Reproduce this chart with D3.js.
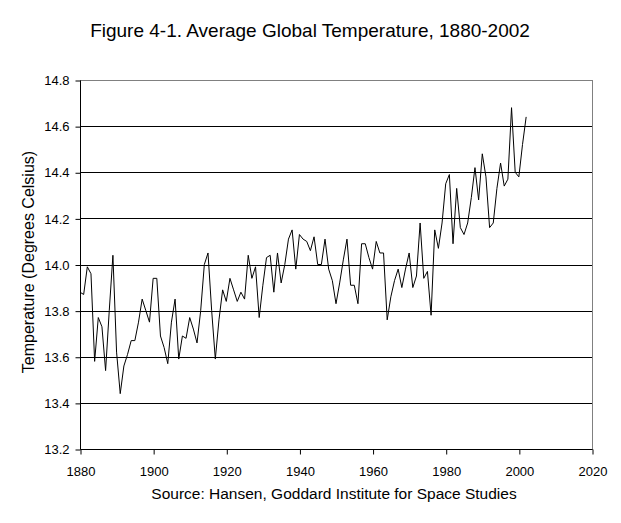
<!DOCTYPE html>
<html>
<head>
<meta charset="utf-8">
<script src="https://cdn.jsdelivr.net/npm/d3@7"></script>
<style>
  body { margin: 0; background: #fff; }
  svg { display: block; font-family: "Liberation Sans", Arial, sans-serif; }
</style>
</head>
<body>
<div id="chart"></div>
<script>
// annual mean temperatures, 1880..2002
const startYear = 1880
const temps = [
  13.88, 13.87, 13.99, 13.96, 13.58, 13.77, 13.73, 13.54, 13.80, 14.04,
  13.62, 13.44, 13.56, 13.61, 13.67, 13.67, 13.75, 13.85, 13.80, 13.75,
  13.94, 13.94, 13.69, 13.64, 13.57, 13.75, 13.85, 13.59, 13.69, 13.68,
  13.77, 13.72, 13.66, 13.80, 14.00, 14.05, 13.80, 13.59, 13.76, 13.89,
  13.84, 13.94, 13.89, 13.84, 13.88, 13.85, 14.04, 13.94, 13.99, 13.77,
  13.91, 14.03, 14.04, 13.88, 14.05, 13.92, 14.00, 14.11, 14.15, 13.98,
  14.13, 14.11, 14.10, 14.06, 14.12, 14.00, 14.00, 14.11, 13.98, 13.93,
  13.83, 13.92, 14.02, 14.11, 13.91, 13.91, 13.83, 14.09, 14.09, 14.03,
  13.98, 14.10, 14.05, 14.05, 13.76, 13.86, 13.93, 13.98, 13.90, 13.98,
  14.05, 13.90, 13.95, 14.18, 13.94, 13.97, 13.78, 14.15, 14.07, 14.18,
  14.35, 14.39, 14.09, 14.33, 14.16, 14.13, 14.18, 14.29, 14.42, 14.28,
  14.48, 14.38, 14.16, 14.18, 14.33, 14.44, 14.34, 14.37, 14.68, 14.40,
  14.38, 14.52, 14.64
]
const xTicks = [1880, 1900, 1920, 1940, 1960, 1980, 2000, 2020]
const yTicks = [13.2, 13.4, 13.6, 13.8, 14.0, 14.2, 14.4, 14.6, 14.8]

const titleText = 'Figure 4-1. Average Global Temperature, 1880-2002'
const yTitle = 'Temperature (Degrees Celsius)'
const sourceText = 'Source: Hansen, Goddard Institute for Space Studies'

const W = 621, H = 523
const m = { left: 80, right: 592, top: 80, bottom: 449 }

const data = temps.map((t, i) => ({ year: startYear + i, temp: t }))

const x = d3.scaleLinear().domain([1880, 2020]).range([m.left, m.right])
const y = d3.scaleLinear().domain([13.2, 14.8]).range([m.bottom, m.top])

const svg = d3.select('#chart').append('svg')
    .attr('width', W).attr('height', H)

// plot frame, grey on top/right like the original
svg.append('rect')
    .attr('x', m.left + 0.5).attr('y', m.top + 0.5)
    .attr('width', m.right - m.left).attr('height', m.bottom - m.top)
    .attr('fill', 'none').attr('stroke', '#808080')

// horizontal gridlines
svg.append('g').selectAll('line')
    .data(yTicks.filter(v => v > 13.2 && v < 14.8))
    .enter().append('line')
    .attr('x1', m.left).attr('x2', m.right)
    .attr('y1', d => Math.round(y(d)) + 0.5)
    .attr('y2', d => Math.round(y(d)) + 0.5)
    .attr('stroke', '#000')

// axes
const yAxis = d3.axisLeft(y).tickValues(yTicks)
    .tickFormat(d3.format('.1f')).tickSize(5).tickPadding(6)
const xAxis = d3.axisBottom(x).tickValues(xTicks)
    .tickFormat(d3.format('d')).tickSize(5).tickPadding(12)

const gy = svg.append('g')
    .attr('transform', 'translate(' + (m.left + 0.5) + ',0.5)')
    .call(yAxis)
const gx = svg.append('g')
    .attr('transform', 'translate(0.5,' + (m.bottom + 0.5) + ')')
    .call(xAxis)

;[gx, gy].forEach(g => {
    g.select('.domain').attr('stroke', '#000')
    g.selectAll('.tick line').attr('stroke', '#000')
    g.selectAll('text')
        .attr('fill', '#000')
        .style('font-family', '"Liberation Sans", Arial, sans-serif')
        .style('font-size', '13px')
})
gx.select('.domain').attr('d', 'M' + m.left + ',0H' + m.right)
gy.select('.domain').attr('d', 'M0,' + m.top + 'V' + m.bottom)

// the series
const line = d3.line()
    .x(d => x(d.year))
    .y(d => y(d.temp))

svg.append('path')
    .datum(data)
    .attr('d', line)
    .attr('fill', 'none')
    .attr('stroke', '#000')
    .attr('stroke-width', 1)

// titles
svg.append('text')
    .attr('x', 310).attr('y', 37)
    .attr('text-anchor', 'middle')
    .style('font-size', '19px')
    .text(titleText)

svg.append('text')
    .attr('transform', 'translate(34,262) rotate(-90)')
    .attr('text-anchor', 'middle')
    .style('font-size', '16px')
    .text(yTitle)

svg.append('text')
    .attr('x', 334).attr('y', 499)
    .attr('text-anchor', 'middle')
    .style('font-size', '15.5px')
    .text(sourceText)
</script>
</body>
</html>
